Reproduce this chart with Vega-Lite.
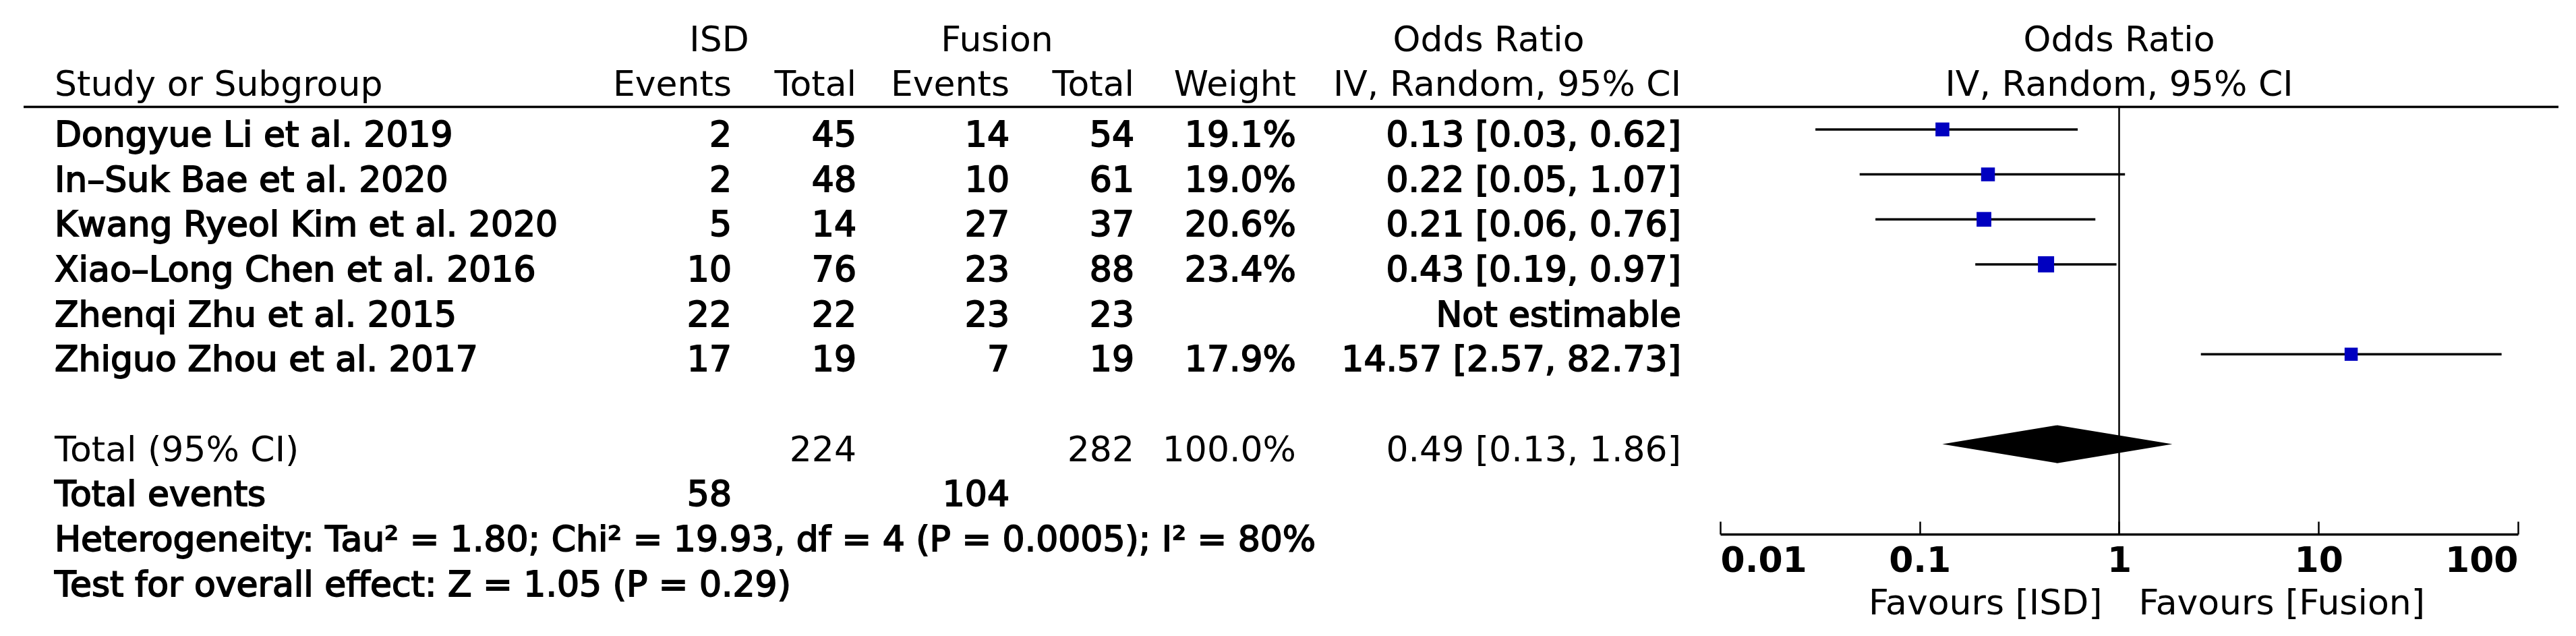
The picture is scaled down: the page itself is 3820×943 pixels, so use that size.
{
  "$schema": "https://vega.github.io/schema/vega-lite/v6.json",
  "background": "white",
  "padding": {"left": 33, "right": 28, "top": 0, "bottom": 0},
  "bounds": "flush",
  "spacing": 0,
  "resolve": {"scale": {"x": "independent", "y": "independent"}},
  "config": {
    "font": "DejaVu Sans",
    "view": {"stroke": null},
    "text": {"fontSize": 52, "color": "#000000", "baseline": "middle", "stroke": "#000000"}
  },
  "datasets": {
    "table": [
      {"row": 2, "kind": "study", "label": "Dongyue Li et al. 2019", "isd_events": 2, "isd_total": 45, "fus_events": 14, "fus_total": 54, "weight": 0.191, "or_ci": "0.13 [0.03, 0.62]", "or": 0.13, "lo": 0.03, "hi": 0.62},
      {"row": 3, "kind": "study", "label": "In–Suk Bae et al. 2020", "isd_events": 2, "isd_total": 48, "fus_events": 10, "fus_total": 61, "weight": 0.190, "or_ci": "0.22 [0.05, 1.07]", "or": 0.22, "lo": 0.05, "hi": 1.07},
      {"row": 4, "kind": "study", "label": "Kwang Ryeol Kim et al. 2020", "isd_events": 5, "isd_total": 14, "fus_events": 27, "fus_total": 37, "weight": 0.206, "or_ci": "0.21 [0.06, 0.76]", "or": 0.21, "lo": 0.06, "hi": 0.76},
      {"row": 5, "kind": "study", "label": "Xiao–Long Chen et al. 2016", "isd_events": 10, "isd_total": 76, "fus_events": 23, "fus_total": 88, "weight": 0.234, "or_ci": "0.43 [0.19, 0.97]", "or": 0.43, "lo": 0.19, "hi": 0.97},
      {"row": 6, "kind": "study", "label": "Zhenqi Zhu et al. 2015", "isd_events": 22, "isd_total": 22, "fus_events": 23, "fus_total": 23, "weight": null, "or_ci": "Not estimable", "or": null, "lo": null, "hi": null},
      {"row": 7, "kind": "study", "label": "Zhiguo Zhou et al. 2017", "isd_events": 17, "isd_total": 19, "fus_events": 7, "fus_total": 19, "weight": 0.179, "or_ci": "14.57 [2.57, 82.73]", "or": 14.57, "lo": 2.57, "hi": 82.73},
      {"row": 9, "kind": "total", "label": "Total (95% CI)", "isd_events": null, "isd_total": 224, "fus_events": null, "fus_total": 282, "weight": 1.0, "or_ci": "0.49 [0.13, 1.86]", "or": 0.49, "lo": 0.13, "hi": 1.86},
      {"row": 10, "kind": "events", "label": "Total events", "isd_events": 58, "isd_total": null, "fus_events": 104, "fus_total": null, "weight": null, "or_ci": null, "or": null, "lo": null, "hi": null},
      {"row": 11, "kind": "note", "label": "Heterogeneity: Tau² = 1.80; Chi² = 19.93, df = 4 (P = 0.0005); I² = 80%", "isd_events": null, "isd_total": null, "fus_events": null, "fus_total": null, "weight": null, "or_ci": null, "or": null, "lo": null, "hi": null},
      {"row": 12, "kind": "note", "label": "Test for overall effect: Z = 1.05 (P = 0.29)", "isd_events": null, "isd_total": null, "fus_events": null, "fus_total": null, "weight": null, "or_ci": null, "or": null, "lo": null, "hi": null}
    ],
    "headers": [
      {"panel": "name", "row": 1, "col": "label", "text": "Study or Subgroup"},
      {"panel": "isd", "row": 0, "col": "isd_events", "text": "ISD"},
      {"panel": "isd", "row": 1, "col": "isd_events", "text": "Events"},
      {"panel": "isd", "row": 1, "col": "isd_total", "text": "Total"},
      {"panel": "fusion", "row": 0, "col": "fus_events", "text": "Fusion"},
      {"panel": "fusion", "row": 1, "col": "fus_events", "text": "Events"},
      {"panel": "fusion", "row": 1, "col": "fus_total", "text": "Total"},
      {"panel": "weight", "row": 1, "col": "weight", "text": "Weight"},
      {"panel": "or", "row": 0, "col": "or_ci", "text": "Odds Ratio"},
      {"panel": "or", "row": 1, "col": "or_ci", "text": "IV, Random, 95% CI"},
      {"panel": "forest", "row": 0, "col": "forest", "text": "Odds Ratio"},
      {"panel": "forest", "row": 1, "col": "forest", "text": "IV, Random, 95% CI"},
      {"panel": "favours", "row": null, "col": "ISD", "text": "Favours [ISD]"},
      {"panel": "favours", "row": null, "col": "Fusion", "text": "Favours [Fusion]"}
    ]
  },
  "hconcat": [
    {
      "width": 823,
      "height": 943,
      "layer": [
        {
          "data": {"values": [{}]},
          "mark": {"type": "rule", "color": "#000000", "strokeWidth": 3.5},
          "encoding": {"y": {"datum": 1.5, "type": "quantitative", "scale": {"domain": [-0.879, 13.267], "reverse": true, "nice": false, "zero": false}, "axis": null}}
        },
        {
          "data": {"name": "table"},
          "mark": {"type": "text", "align": "left", "dx": 46, "dy": 9},
          "encoding": {
            "x": {"datum": "label", "type": "nominal", "bandPosition": 0, "scale": {"type": "band", "domain": ["label"], "paddingInner": 0, "paddingOuter": 0}, "axis": null},
            "y": {"field": "row", "type": "quantitative", "scale": {"domain": [-0.879, 13.267], "reverse": true, "nice": false, "zero": false}, "axis": null},
            "text": {"field": "label", "type": "nominal"},
            "strokeWidth": {"condition": {"test": "datum.kind == 'total'", "value": 0}, "value": 1.8}
          }
        },
        {
          "data": {"name": "headers"},
          "transform": [{"filter": "datum.panel == 'name'"}],
          "mark": {"type": "text", "align": "left", "dx": 46, "dy": 1, "strokeWidth": 0},
          "encoding": {
            "x": {"field": "col", "type": "nominal", "bandPosition": 0, "scale": {"type": "band", "domain": ["label"], "paddingInner": 0, "paddingOuter": 0}, "axis": null},
            "y": {"field": "row", "type": "quantitative", "scale": {"domain": [-0.879, 13.267], "reverse": true, "nice": false, "zero": false}, "axis": null},
            "text": {"field": "text", "type": "nominal"}
          }
        }
      ]
    },
    {
      "width": 412,
      "height": 943,
      "layer": [
        {
          "data": {"values": [{}]},
          "mark": {"type": "rule", "color": "#000000", "strokeWidth": 3.5},
          "encoding": {"y": {"datum": 1.5, "type": "quantitative", "scale": {"domain": [-0.879, 13.267], "reverse": true, "nice": false, "zero": false}, "axis": null}}
        },
        {
          "data": {"name": "table"},
          "transform": [
            {"fold": ["isd_events", "isd_total"], "as": ["col", "value"]},
            {"filter": "datum.value != null"}
          ],
          "mark": {"type": "text", "align": "right", "dy": 9},
          "encoding": {
            "x": {"field": "col", "type": "nominal", "bandPosition": 1, "scale": {"type": "band", "domain": ["isd_events", "isd_total"], "paddingInner": 0, "paddingOuter": 0.1135, "align": 1}, "axis": null},
            "y": {"field": "row", "type": "quantitative", "scale": {"domain": [-0.879, 13.267], "reverse": true, "nice": false, "zero": false}, "axis": null},
            "text": {"field": "value", "type": "quantitative"},
            "strokeWidth": {"condition": {"test": "datum.kind == 'total'", "value": 0}, "value": 1.8}
          }
        },
        {
          "data": {"name": "headers"},
          "transform": [{"filter": "datum.panel == 'isd' && datum.row == 1"}],
          "mark": {"type": "text", "align": "right", "dy": 1, "strokeWidth": 0},
          "encoding": {
            "x": {"field": "col", "type": "nominal", "bandPosition": 1, "scale": {"type": "band", "domain": ["isd_events", "isd_total"], "paddingInner": 0, "paddingOuter": 0.1135, "align": 1}, "axis": null},
            "y": {"field": "row", "type": "quantitative", "scale": {"domain": [-0.879, 13.267], "reverse": true, "nice": false, "zero": false}, "axis": null},
            "text": {"field": "text", "type": "nominal"}
          }
        },
        {
          "data": {"name": "headers"},
          "transform": [{"filter": "datum.panel == 'isd' && datum.row == 0"}],
          "mark": {"type": "text", "align": "center", "dy": 1, "strokeWidth": 0},
          "encoding": {
            "x": {"field": "col", "type": "nominal", "bandPosition": 0.9, "scale": {"type": "band", "domain": ["isd_events", "isd_total"], "paddingInner": 0, "paddingOuter": 0.1135, "align": 1}, "axis": null},
            "y": {"field": "row", "type": "quantitative", "scale": {"domain": [-0.879, 13.267], "reverse": true, "nice": false, "zero": false}, "axis": null},
            "text": {"field": "text", "type": "nominal"}
          }
        }
      ]
    },
    {
      "width": 412,
      "height": 943,
      "layer": [
        {
          "data": {"values": [{}]},
          "mark": {"type": "rule", "color": "#000000", "strokeWidth": 3.5},
          "encoding": {"y": {"datum": 1.5, "type": "quantitative", "scale": {"domain": [-0.879, 13.267], "reverse": true, "nice": false, "zero": false}, "axis": null}}
        },
        {
          "data": {"name": "table"},
          "transform": [
            {"fold": ["fus_events", "fus_total"], "as": ["col", "value"]},
            {"filter": "datum.value != null"}
          ],
          "mark": {"type": "text", "align": "right", "dy": 9},
          "encoding": {
            "x": {"field": "col", "type": "nominal", "bandPosition": 1, "scale": {"type": "band", "domain": ["fus_events", "fus_total"], "paddingInner": 0, "paddingOuter": 0.1135, "align": 1}, "axis": null},
            "y": {"field": "row", "type": "quantitative", "scale": {"domain": [-0.879, 13.267], "reverse": true, "nice": false, "zero": false}, "axis": null},
            "text": {"field": "value", "type": "quantitative"},
            "strokeWidth": {"condition": {"test": "datum.kind == 'total'", "value": 0}, "value": 1.8}
          }
        },
        {
          "data": {"name": "headers"},
          "transform": [{"filter": "datum.panel == 'fusion' && datum.row == 1"}],
          "mark": {"type": "text", "align": "right", "dy": 1, "strokeWidth": 0},
          "encoding": {
            "x": {"field": "col", "type": "nominal", "bandPosition": 1, "scale": {"type": "band", "domain": ["fus_events", "fus_total"], "paddingInner": 0, "paddingOuter": 0.1135, "align": 1}, "axis": null},
            "y": {"field": "row", "type": "quantitative", "scale": {"domain": [-0.879, 13.267], "reverse": true, "nice": false, "zero": false}, "axis": null},
            "text": {"field": "text", "type": "nominal"}
          }
        },
        {
          "data": {"name": "headers"},
          "transform": [{"filter": "datum.panel == 'fusion' && datum.row == 0"}],
          "mark": {"type": "text", "align": "center", "dy": 1, "strokeWidth": 0},
          "encoding": {
            "x": {"field": "col", "type": "nominal", "bandPosition": 0.9, "scale": {"type": "band", "domain": ["fus_events", "fus_total"], "paddingInner": 0, "paddingOuter": 0.1135, "align": 1}, "axis": null},
            "y": {"field": "row", "type": "quantitative", "scale": {"domain": [-0.879, 13.267], "reverse": true, "nice": false, "zero": false}, "axis": null},
            "text": {"field": "text", "type": "nominal"}
          }
        }
      ]
    },
    {
      "width": 240,
      "height": 943,
      "layer": [
        {
          "data": {"values": [{}]},
          "mark": {"type": "rule", "color": "#000000", "strokeWidth": 3.5},
          "encoding": {"y": {"datum": 1.5, "type": "quantitative", "scale": {"domain": [-0.879, 13.267], "reverse": true, "nice": false, "zero": false}, "axis": null}}
        },
        {
          "data": {"name": "table"},
          "transform": [{"filter": "datum.weight != null"}],
          "mark": {"type": "text", "align": "right", "dy": 9},
          "encoding": {
            "x": {"datum": "weight", "type": "nominal", "bandPosition": 1, "scale": {"type": "band", "domain": ["weight"], "paddingInner": 0, "paddingOuter": 0}, "axis": null},
            "y": {"field": "row", "type": "quantitative", "scale": {"domain": [-0.879, 13.267], "reverse": true, "nice": false, "zero": false}, "axis": null},
            "text": {"field": "weight", "type": "quantitative", "format": ".1%"},
            "strokeWidth": {"condition": {"test": "datum.kind == 'total'", "value": 0}, "value": 1.8}
          }
        },
        {
          "data": {"name": "headers"},
          "transform": [{"filter": "datum.panel == 'weight'"}],
          "mark": {"type": "text", "align": "right", "dy": 1, "strokeWidth": 0},
          "encoding": {
            "x": {"field": "col", "type": "nominal", "bandPosition": 1, "scale": {"type": "band", "domain": ["weight"], "paddingInner": 0, "paddingOuter": 0}, "axis": null},
            "y": {"field": "row", "type": "quantitative", "scale": {"domain": [-0.879, 13.267], "reverse": true, "nice": false, "zero": false}, "axis": null},
            "text": {"field": "text", "type": "nominal"}
          }
        }
      ]
    },
    {
      "width": 571,
      "height": 943,
      "layer": [
        {
          "data": {"values": [{}]},
          "mark": {"type": "rule", "color": "#000000", "strokeWidth": 3.5},
          "encoding": {"y": {"datum": 1.5, "type": "quantitative", "scale": {"domain": [-0.879, 13.267], "reverse": true, "nice": false, "zero": false}, "axis": null}}
        },
        {
          "data": {"name": "table"},
          "transform": [{"filter": "datum.or_ci != null"}],
          "mark": {"type": "text", "align": "right", "dy": 9},
          "encoding": {
            "x": {"datum": "or_ci", "type": "nominal", "bandPosition": 1, "scale": {"type": "band", "domain": ["or_ci"], "paddingInner": 0, "paddingOuter": 0}, "axis": null},
            "y": {"field": "row", "type": "quantitative", "scale": {"domain": [-0.879, 13.267], "reverse": true, "nice": false, "zero": false}, "axis": null},
            "text": {"field": "or_ci", "type": "nominal"},
            "strokeWidth": {"condition": {"test": "datum.kind == 'total'", "value": 0}, "value": 1.8}
          }
        },
        {
          "data": {"name": "headers"},
          "transform": [{"filter": "datum.panel == 'or' && datum.row == 1"}],
          "mark": {"type": "text", "align": "right", "dy": 1, "strokeWidth": 0},
          "encoding": {
            "x": {"field": "col", "type": "nominal", "bandPosition": 1, "scale": {"type": "band", "domain": ["or_ci"], "paddingInner": 0, "paddingOuter": 0}, "axis": null},
            "y": {"field": "row", "type": "quantitative", "scale": {"domain": [-0.879, 13.267], "reverse": true, "nice": false, "zero": false}, "axis": null},
            "text": {"field": "text", "type": "nominal"}
          }
        },
        {
          "data": {"name": "headers"},
          "transform": [{"filter": "datum.panel == 'or' && datum.row == 0"}],
          "mark": {"type": "text", "align": "center", "dy": 1, "strokeWidth": 0},
          "encoding": {
            "x": {"field": "col", "type": "nominal", "bandPosition": 0.5, "scale": {"type": "band", "domain": ["or_ci"], "paddingInner": 0, "paddingOuter": 0}, "axis": null},
            "y": {"field": "row", "type": "quantitative", "scale": {"domain": [-0.879, 13.267], "reverse": true, "nice": false, "zero": false}, "axis": null},
            "text": {"field": "text", "type": "nominal"}
          }
        }
      ]
    },
    {
      "width": 1301,
      "height": 792,
      "layer": [
        {
          "data": {"values": [{}]},
          "mark": {"type": "rule", "color": "#000000", "strokeWidth": 3.5},
          "encoding": {"y": {"datum": 1.5, "type": "quantitative", "scale": {"domain": [-0.879, 11.002], "reverse": true, "nice": false, "zero": false}, "axis": null}}
        },
        {
          "data": {"values": [{}]},
          "mark": {"type": "rule", "color": "#000000", "strokeWidth": 2.5},
          "encoding": {
            "x": {"datum": 1, "type": "quantitative", "scale": {"type": "log", "domain": [0.01, 100], "range": [58, 1241], "nice": false},
                  "axis": {"values": [0.01, 0.1, 1, 10, 100], "format": "~g", "title": null, "grid": false, "orient": "bottom", "domainColor": "#000000", "domainWidth": 3.5, "tickColor": "#000000", "tickWidth": 2.5, "tickSize": -19, "labelFontSize": 52, "labelFont": "DejaVu Sans", "labelFontWeight": "bold", "labelColor": "#000000", "labelPadding": 33, "labelFlush": true, "labelOverlap": false}},
            "y": {"datum": 1.5, "type": "quantitative", "scale": {"domain": [-0.879, 11.002], "reverse": true, "nice": false, "zero": false}, "axis": null},
            "y2": {"datum": 11.002}
          }
        },
        {
          "data": {"name": "table"},
          "transform": [{"filter": "datum.kind == 'study' && datum.or != null"}],
          "mark": {"type": "rule", "color": "#000000", "strokeWidth": 3.5},
          "encoding": {
            "x": {"field": "lo", "type": "quantitative", "scale": {"type": "log", "domain": [0.01, 100], "range": [58, 1241], "nice": false},
                  "axis": {"values": [0.01, 0.1, 1, 10, 100], "format": "~g", "title": null, "grid": false, "orient": "bottom", "domainColor": "#000000", "domainWidth": 3.5, "tickColor": "#000000", "tickWidth": 2.5, "tickSize": -19, "labelFontSize": 52, "labelFont": "DejaVu Sans", "labelFontWeight": "bold", "labelColor": "#000000", "labelPadding": 33, "labelFlush": true, "labelOverlap": false}},
            "x2": {"field": "hi"},
            "y": {"field": "row", "type": "quantitative", "scale": {"domain": [-0.879, 11.002], "reverse": true, "nice": false, "zero": false}, "axis": null}
          }
        },
        {
          "data": {"name": "table"},
          "transform": [{"filter": "datum.kind == 'study' && datum.or != null"}],
          "mark": {"type": "point", "shape": "square", "filled": true, "opacity": 1, "color": "#0000c0", "strokeWidth": 0},
          "encoding": {
            "x": {"field": "or", "type": "quantitative", "scale": {"type": "log", "domain": [0.01, 100], "range": [58, 1241], "nice": false},
                  "axis": {"values": [0.01, 0.1, 1, 10, 100], "format": "~g", "title": null, "grid": false, "orient": "bottom", "domainColor": "#000000", "domainWidth": 3.5, "tickColor": "#000000", "tickWidth": 2.5, "tickSize": -19, "labelFontSize": 52, "labelFont": "DejaVu Sans", "labelFontWeight": "bold", "labelColor": "#000000", "labelPadding": 33, "labelFlush": true, "labelOverlap": false}},
            "y": {"field": "row", "type": "quantitative", "scale": {"domain": [-0.879, 11.002], "reverse": true, "nice": false, "zero": false}, "axis": null},
            "size": {"field": "weight", "type": "quantitative", "scale": {"domain": [0.179, 0.234], "range": [380, 576], "zero": false}, "legend": null}
          }
        },
        {
          "data": {"name": "table"},
          "transform": [{"filter": "datum.kind == 'total'"}],
          "mark": {"type": "point", "shape": "M-1,0L0,-0.165L1,0L0,0.165Z", "filled": true, "opacity": 1, "color": "#000000", "strokeWidth": 0, "size": 116281},
          "encoding": {
            "x": {"field": "or", "type": "quantitative", "scale": {"type": "log", "domain": [0.01, 100], "range": [58, 1241], "nice": false},
                  "axis": {"values": [0.01, 0.1, 1, 10, 100], "format": "~g", "title": null, "grid": false, "orient": "bottom", "domainColor": "#000000", "domainWidth": 3.5, "tickColor": "#000000", "tickWidth": 2.5, "tickSize": -19, "labelFontSize": 52, "labelFont": "DejaVu Sans", "labelFontWeight": "bold", "labelColor": "#000000", "labelPadding": 33, "labelFlush": true, "labelOverlap": false}},
            "y": {"field": "row", "type": "quantitative", "scale": {"domain": [-0.879, 11.002], "reverse": true, "nice": false, "zero": false}, "axis": null}
          }
        },
        {
          "data": {"name": "headers"},
          "transform": [{"filter": "datum.panel == 'forest'"}],
          "mark": {"type": "text", "align": "center", "dy": 1, "strokeWidth": 0},
          "encoding": {
            "x": {"datum": 1, "type": "quantitative"},
            "y": {"field": "row", "type": "quantitative", "scale": {"domain": [-0.879, 11.002], "reverse": true, "nice": false, "zero": false}, "axis": null},
            "text": {"field": "text", "type": "nominal"}
          }
        },
        {
          "data": {"name": "headers"},
          "transform": [{"filter": "datum.panel == 'favours' && datum.col == 'ISD'"}],
          "mark": {"type": "text", "align": "right", "dx": -25, "dy": 3, "strokeWidth": 0},
          "encoding": {
            "x": {"datum": 1, "type": "quantitative"},
            "y": {"datum": 12.5, "type": "quantitative"},
            "text": {"field": "text", "type": "nominal"}
          }
        },
        {
          "data": {"name": "headers"},
          "transform": [{"filter": "datum.panel == 'favours' && datum.col == 'Fusion'"}],
          "mark": {"type": "text", "align": "left", "dx": 29, "dy": 3, "strokeWidth": 0},
          "encoding": {
            "x": {"datum": 1, "type": "quantitative"},
            "y": {"datum": 12.5, "type": "quantitative"},
            "text": {"field": "text", "type": "nominal"}
          }
        }
      ]
    }
  ]
}
